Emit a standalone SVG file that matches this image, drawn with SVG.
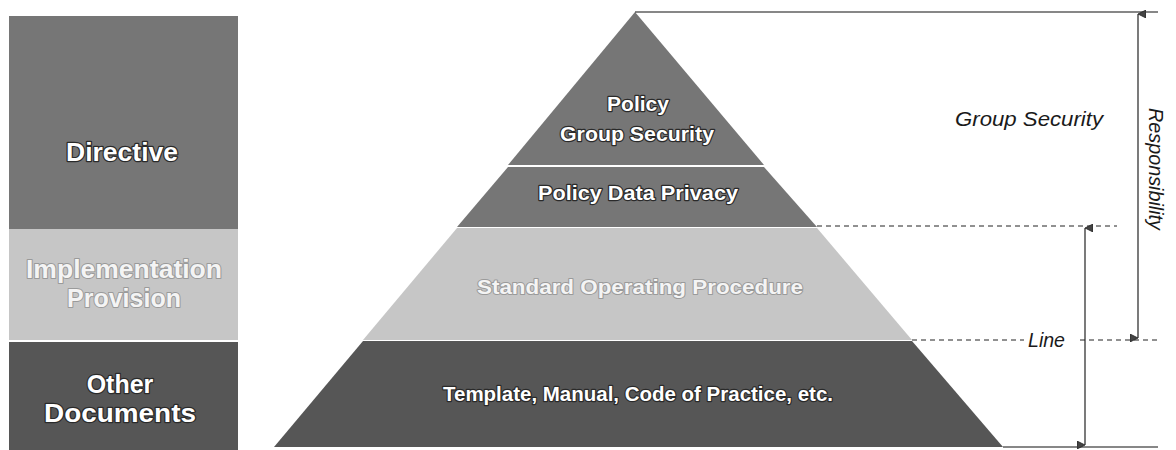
<svg xmlns="http://www.w3.org/2000/svg" width="1176" height="450" viewBox="0 0 1176 450">
  <defs>
    <style>
      .lbl { font-family: "Liberation Sans", Arial, sans-serif; font-weight: bold; fill: #ffffff; stroke: #2a2a2a; stroke-width: 2.4; paint-order: stroke; stroke-linejoin: round; text-anchor: middle; }
      .pale { fill: #f4f4f4; stroke: #9a9a9a; stroke-width: 2; }
      .note { font-family: "Liberation Sans", Arial, sans-serif; font-style: italic; fill: #1a1a1a; font-size: 20px; }
      .mid { fill: #767676; }
      .light { fill: #c6c6c6; }
      .dark { fill: #565656; }
      .edge { stroke: #111111; stroke-width: 1.2; fill: none; }
      .dash { stroke: #222222; stroke-width: 1; stroke-dasharray: 5 4; fill: none; }
      .arrow { stroke: #222222; stroke-width: 1.2; fill: none; marker-start: url(#head); marker-end: url(#head); }
    </style>
    <marker id="head" viewBox="0 0 10 10" refX="5" refY="0" markerWidth="8" markerHeight="8" markerUnits="userSpaceOnUse" orient="auto-start-reverse">
      <path d="M0,10 L5,0 L10,10 Z" fill="#444" stroke="#222" stroke-width="1"/>
    </marker>
  </defs>

  <rect width="1176" height="450" fill="#ffffff"/>

  <!-- Document hierarchy column -->
  <g id="directive">
    <rect class="mid" x="9" y="16" width="229" height="213"/>
    <text class="lbl" x="122" y="161" font-size="25" textLength="112" lengthAdjust="spacingAndGlyphs">Directive</text>
  </g>
  <g id="implementation-provision">
    <rect class="light" x="9" y="229" width="229" height="111"/>
    <text class="lbl pale" x="124" y="278" font-size="25" textLength="196" lengthAdjust="spacingAndGlyphs">Implementation</text>
    <text class="lbl pale" x="124" y="307" font-size="25">Provision</text>
  </g>
  <g id="other-documents">
    <rect class="dark" x="9" y="342" width="229" height="108"/>
    <text class="lbl" x="120" y="393" font-size="25">Other</text>
    <text class="lbl" x="120" y="422" font-size="25" textLength="152" lengthAdjust="spacingAndGlyphs">Documents</text>
  </g>

  <!-- Pyramid layers -->
  <g id="policy-group-security">
    <polygon class="mid" points="635,12 764,165 508,165"/>
    <text class="lbl" x="638" y="111" font-size="21">Policy</text>
    <text class="lbl" x="637" y="141" font-size="21" textLength="154" lengthAdjust="spacingAndGlyphs">Group Security</text>
  </g>
  <g id="policy-data-privacy">
    <polygon class="mid" points="508,167 764,167 817,227 457,227"/>
    <text class="lbl" x="638" y="200" font-size="21" textLength="200" lengthAdjust="spacingAndGlyphs">Policy Data Privacy</text>
  </g>
  <g id="standard-operating-procedure">
    <polygon class="light" points="457,228 817,228 912,340 363,340"/>
    <text class="lbl pale" x="640" y="294" font-size="21" textLength="326" lengthAdjust="spacingAndGlyphs">Standard Operating Procedure</text>
  </g>
  <g id="template-manual">
    <polygon class="dark" points="363,341 912,341 1003,447 274,447"/>
    <text class="lbl" x="638" y="401" font-size="21" textLength="390" lengthAdjust="spacingAndGlyphs">Template, Manual, Code of Practice, etc.</text>
  </g>

  <!-- Responsibility annotations -->
  <g id="connectors">
    <line class="edge" x1="635" y1="12" x2="1158" y2="12"/>
    <line class="edge" x1="1003" y1="447" x2="1158" y2="447"/>
    <line class="dash" x1="817" y1="226" x2="1117" y2="226"/>
    <line class="dash" x1="912" y1="340" x2="1024" y2="340"/>
    <line class="dash" x1="1080" y1="340" x2="1160" y2="340"/>
    <line class="arrow" x1="1138" y1="14" x2="1138" y2="338"/>
    <line class="arrow" x1="1085" y1="228" x2="1085" y2="445"/>
  </g>

  <g id="group-security-note">
    <text class="note" x="955" y="126" textLength="148" lengthAdjust="spacingAndGlyphs">Group Security</text>
  </g>
  <g id="line-note">
    <text class="note" x="1028" y="347" textLength="37" lengthAdjust="spacingAndGlyphs">Line</text>
  </g>
  <g id="responsibility-note">
    <text class="note" x="0" y="0" font-size="19" textLength="122" lengthAdjust="spacingAndGlyphs" transform="translate(1149,108) rotate(90)">Responsibility</text>
  </g>
</svg>
